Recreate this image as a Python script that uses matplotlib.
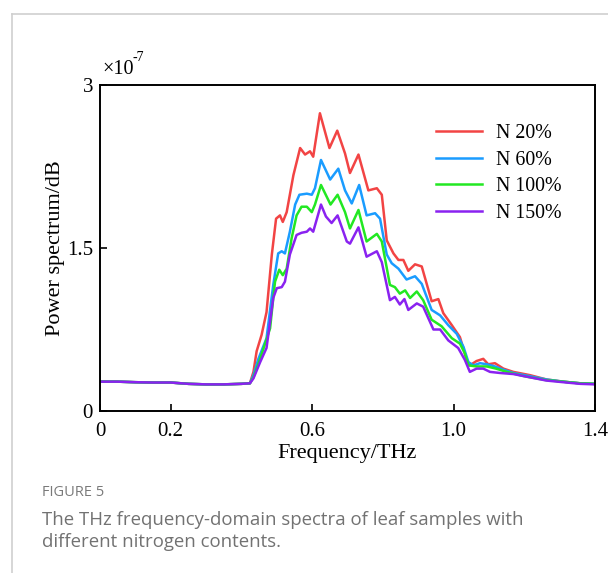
import matplotlib
matplotlib.use("Agg")
import matplotlib.pyplot as plt
from matplotlib.lines import Line2D

# ---- data (power spectrum in units of 1e-7) ----
base_x = [0.0, 0.05, 0.10, 0.15, 0.20, 0.25, 0.30, 0.35, 0.40, 0.424]
base_y = [0.27, 0.27, 0.265, 0.262, 0.262, 0.25, 0.245, 0.245, 0.25, 0.255]

red_x = [0.434, 0.443, 0.457, 0.471, 0.486, 0.498, 0.509, 0.517, 0.528, 0.547,
         0.566, 0.580, 0.594, 0.603, 0.622, 0.649, 0.671, 0.693, 0.707, 0.731,
         0.759, 0.783, 0.797, 0.811, 0.830, 0.844, 0.858, 0.872, 0.891, 0.910,
         0.938, 0.957, 0.971, 0.995, 1.018, 1.037, 1.046, 1.065, 1.084, 1.098,
         1.117, 1.141, 1.169, 1.216, 1.263, 1.310, 1.358, 1.400]
red_y = [0.36, 0.55, 0.70, 0.91, 1.44, 1.77, 1.80, 1.74, 1.83, 2.17,
         2.42, 2.36, 2.39, 2.34, 2.74, 2.42, 2.58, 2.37, 2.19, 2.36,
         2.03, 2.05, 1.99, 1.57, 1.45, 1.39, 1.39, 1.29, 1.35, 1.33,
         1.01, 1.03, 0.90, 0.79, 0.68, 0.47, 0.42, 0.46, 0.48, 0.43,
         0.44, 0.39, 0.36, 0.33, 0.29, 0.27, 0.255, 0.25]

blue_x = [0.434, 0.448, 0.471, 0.490, 0.504, 0.514, 0.523, 0.537, 0.552, 0.564,
          0.585, 0.599, 0.608, 0.625, 0.651, 0.674, 0.693, 0.712, 0.733, 0.754,
          0.778, 0.792, 0.811, 0.825, 0.844, 0.867, 0.891, 0.910, 0.938, 0.962,
          0.985, 1.009, 1.028, 1.042, 1.056, 1.075, 1.094, 1.117, 1.141, 1.169,
          1.216, 1.263, 1.310, 1.358, 1.400]
blue_y = [0.33, 0.48, 0.67, 1.16, 1.45, 1.47, 1.45, 1.65, 1.90, 1.99,
          2.00, 1.99, 2.05, 2.31, 2.13, 2.23, 2.03, 1.91, 2.08, 1.80,
          1.82, 1.77, 1.44, 1.36, 1.31, 1.21, 1.24, 1.17, 0.93, 0.88,
          0.79, 0.71, 0.59, 0.45, 0.42, 0.44, 0.43, 0.41, 0.38, 0.35,
          0.32, 0.29, 0.27, 0.255, 0.25]

green_x = [0.434, 0.453, 0.481, 0.495, 0.507, 0.517, 0.528, 0.542, 0.556, 0.570,
           0.585, 0.599, 0.608, 0.625, 0.652, 0.672, 0.693, 0.707, 0.731, 0.754,
           0.783, 0.797, 0.820, 0.834, 0.848, 0.863, 0.877, 0.896, 0.914, 0.938,
           0.966, 0.995, 1.018, 1.032, 1.042, 1.065, 1.094, 1.120, 1.150, 1.200,
           1.260, 1.310, 1.358, 1.400]
green_y = [0.31, 0.48, 0.76, 1.19, 1.30, 1.25, 1.31, 1.59, 1.80, 1.88,
           1.88, 1.83, 1.90, 2.08, 1.90, 1.99, 1.83, 1.68, 1.85, 1.56,
           1.63, 1.56, 1.16, 1.14, 1.08, 1.11, 1.04, 1.10, 1.02, 0.84,
           0.78, 0.67, 0.62, 0.53, 0.42, 0.41, 0.41, 0.39, 0.36, 0.32,
           0.285, 0.27, 0.255, 0.25]

purple_x = [0.434, 0.453, 0.471, 0.490, 0.500, 0.514, 0.523, 0.537, 0.556, 0.570,
            0.585, 0.594, 0.603, 0.625, 0.639, 0.655, 0.672, 0.698, 0.707, 0.731,
            0.754, 0.783, 0.797, 0.820, 0.834, 0.848, 0.861, 0.872, 0.896, 0.914,
            0.943, 0.962, 0.985, 1.013, 1.032, 1.046, 1.065, 1.084, 1.103, 1.131,
            1.169, 1.216, 1.263, 1.310, 1.358, 1.400]
purple_y = [0.30, 0.45, 0.58, 1.04, 1.13, 1.14, 1.19, 1.44, 1.62, 1.64,
            1.65, 1.68, 1.65, 1.90, 1.79, 1.73, 1.80, 1.56, 1.54, 1.69,
            1.42, 1.47, 1.37, 1.02, 1.05, 0.98, 1.03, 0.93, 0.99, 0.96,
            0.75, 0.75, 0.65, 0.58, 0.47, 0.36, 0.39, 0.39, 0.36, 0.35,
            0.34, 0.31, 0.28, 0.265, 0.25, 0.245]

labels = ["N 20%", "N 60%", "N 100%", "N 150%"]
colors = ["#f24444", "#1a9cff", "#22e822", "#8a22f0"]
x_ticks = [0, 0.2, 0.6, 1.0, 1.4]
x_ticklabels = ["0", "0.2", "0.6", "1.0", "1.4"]
y_ticks = [0, 1.5, 3]
y_ticklabels = ["0", "1.5", "3"]

serif = ["Liberation Serif", "DejaVu Serif"]

fig = plt.figure(figsize=(6.08, 5.73), dpi=100)
ax = fig.add_axes([100 / 608, 1 - 411 / 573, 495 / 608, 326 / 573])

series = [(red_x, red_y), (blue_x, blue_y), (green_x, green_y), (purple_x, purple_y)]
for (sx, sy), c, lab in zip(series, colors, labels):
    ax.plot(base_x + sx, base_y + sy, color=c, lw=1.8, label=lab, solid_joinstyle="round")

ax.set_xlim(0, 1.4)
ax.set_ylim(0, 3)
ax.set_xticks(x_ticks)
ax.set_xticklabels(x_ticklabels, family=serif, fontsize=15)
ax.set_yticks(y_ticks)
ax.set_yticklabels(y_ticklabels, family=serif, fontsize=15)
ax.tick_params(direction="in", length=5, width=1.2)
ax.tick_params(axis="x", pad=8)
ax.tick_params(axis="y", pad=5)
for s in ax.spines.values():
    s.set_linewidth(1.4)

ax.set_xlabel("Frequency/THz", family=serif, fontsize=16, labelpad=2)
ax.set_ylabel("Power spectrum/dB", family=serif, fontsize=16, labelpad=1.5)

# exponent label
ax.text(0.005, 1.018, "\u00d710", transform=ax.transAxes, family=serif,
        fontsize=14.5, ha="left", va="bottom")
ax.text(0.066, 1.064, "-7", transform=ax.transAxes, family=serif,
        fontsize=10, ha="left", va="bottom")

leg = ax.legend(loc="upper left", bbox_to_anchor=(0.679, 0.881), frameon=False,
                prop={"family": serif, "size": 14.3}, handlelength=2.3,
                handletextpad=0.7, labelspacing=0.39, borderpad=0, borderaxespad=0)

# card border
fig.add_artist(Line2D([12 / 608, 12 / 608], [0, 1 - 14 / 573], color="#cfcfcf", lw=1.2))
fig.add_artist(Line2D([12 / 608, 1], [1 - 14 / 573, 1 - 14 / 573], color="#cfcfcf", lw=1.2))

fig.text(42 / 608, 1 - 492 / 573, "FIGURE 5", family=["Open Sans", "DejaVu Sans"],
         fontsize=10.5, color="#7a7a7a", va="center", ha="left")
fig.text(42 / 608, 1 - 531 / 573,
         "The THz frequency-domain spectra of leaf samples with\ndifferent nitrogen contents.",
         family=["Open Sans", "DejaVu Sans"], fontsize=13.4, color="#727272",
         va="center", ha="left", linespacing=1.3)

fig.savefig("out.png", dpi=100)
